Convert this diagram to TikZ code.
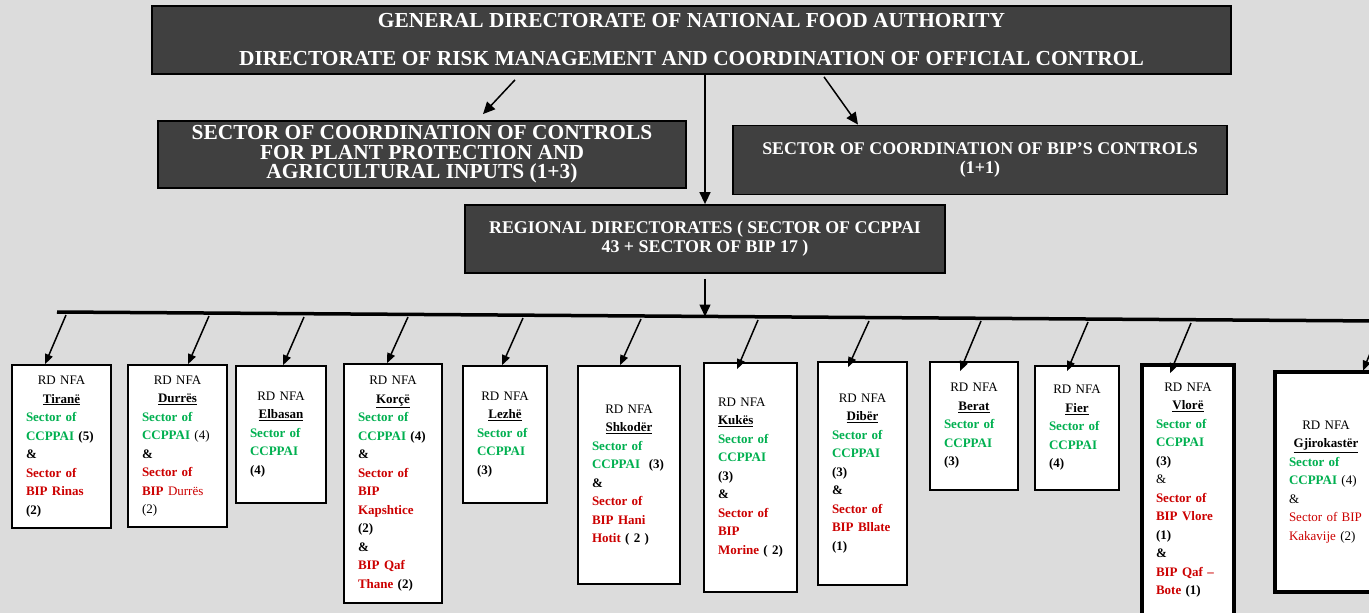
\documentclass[tikz,border=0pt]{standalone}
\usepackage{fontspec}
\setmainfont{Liberation Serif}
\usetikzlibrary{arrows.meta}
\definecolor{bggray}{RGB}{220,220,220}
\definecolor{boxgray}{RGB}{64,64,64}
\definecolor{ccgreen}{RGB}{0,176,80}
\definecolor{bipred}{RGB}{204,0,0}
\newcommand{\grn}[1]{\textcolor{ccgreen}{\textbf{#1}}}
\newcommand{\rdb}[1]{\textcolor{bipred}{\textbf{#1}}}
\newcommand{\rdhead}[1]{\makebox[\linewidth]{RD NFA}\\\makebox[\linewidth]{\textbf{\underline{#1}}}}
\tikzset{
  darkbox/.style={draw=black,fill=boxgray,line width=1.8pt,text=white,align=center,inner sep=0pt},
  rdbox/.style={draw=black,fill=white,line width=1.6pt,inner xsep=14pt,inner ysep=0pt,align=left,
    font=\fontsize{13}{18.5}\selectfont},
  arr/.style={line width=1.5pt,-{Triangle[length=12pt,width=11pt]}},
  brarr/.style={line width=1.5pt,-{Triangle[length=10pt,width=8pt]}}
}

\begin{document}
\begin{tikzpicture}[x=1pt,y=-1pt]

    % -- Page and background --
    \useasboundingbox (0,0) rectangle (1369,613);
    \fill[bggray] (0,0) rectangle (1369,613);

    % -- Upper levels --
    \node[darkbox,minimum width=1079pt,minimum height=68pt,font=\fontsize{21.4}{38}\selectfont\bfseries]
      (gda) at (691.5,40) {GENERAL DIRECTORATE OF NATIONAL FOOD AUTHORITY\\
      DIRECTORATE OF RISK MANAGEMENT AND COORDINATION OF OFFICIAL CONTROL};
    \node[darkbox,minimum width=528pt,minimum height=67pt,font=\fontsize{21.4}{19.5}\selectfont\bfseries]
      (ccp) at (422,154.5) {SECTOR OF COORDINATION OF CONTROLS\\FOR PLANT PROTECTION AND\\AGRICULTURAL INPUTS (1+3)};
    \node[darkbox,minimum width=494pt,minimum height=69pt,font=\fontsize{17.9}{19}\selectfont\bfseries]
      (bip) at (980,160) {SECTOR OF COORDINATION OF BIP’S CONTROLS\\(1+1)};
    \node[darkbox,minimum width=480pt,minimum height=68pt,font=\fontsize{17.9}{19}\selectfont\bfseries]
      (reg) at (705,239) {REGIONAL DIRECTORATES ( SECTOR OF CCPPAI\\43 + SECTOR OF BIP 17 )};

    \draw[arr] ([xshift=-176.5pt,yshift=-5pt]gda.south) -- ([xshift=61pt,yshift=6pt]ccp.north);
    \draw[arr] ([xshift=132.5pt,yshift=-2pt]gda.south) -- ([xshift=-122pt]bip.north);
    \draw[arr] (reg.north |- gda.south) -- (reg.north);

    % -- Distribution line --
    \coordinate (hl) at (57,312);
    \coordinate (hr) at (1380,321);
    \coordinate (hmid) at (705,316.5);
    \draw[line width=3.5pt] (hl) -- (hr);
    \draw[arr] ([yshift=-5pt]reg.south) -- (hmid);

    % -- Regional directorates --
    \node[rdbox,text width=71pt,minimum height=163pt] (tir) at (61.5,446.5)
      {\rdhead{Tiranë}\\ \grn{Sector of}\\ \grn{CCPPAI} \textbf{(5)}\\ \textbf{\&}\\ \rdb{Sector of}\\ \rdb{BIP Rinas}\\ \textbf{(2)}};
    \node[rdbox,text width=71pt,minimum height=162pt] (dur) at (177.5,446)
      {\rdhead{Durrës}\\ \grn{Sector of}\\ \grn{CCPPAI} (4)\\ \textbf{\&}\\ \rdb{Sector of}\\ \rdb{BIP} \textcolor{bipred}{Durrës}\\ (2)};
    \node[rdbox,text width=62pt,minimum height=137pt] (elb) at (281,434.5)
      {\rdhead{Elbasan}\\ \grn{Sector of}\\ \grn{CCPPAI}\\ \textbf{(4)}};
    \node[rdbox,text width=70pt,minimum height=239pt] (kor) at (393,483.5)
      {\rdhead{Korçë}\\ \grn{Sector of}\\ \grn{CCPPAI} \textbf{(4)}\\ \textbf{\&}\\ \rdb{Sector of}\\ \rdb{BIP}\\ \rdb{Kapshtice}\\
       \textbf{(2)}\\ \textbf{\&}\\ \rdb{BIP Qaf}\\ \rdb{Thane} \textbf{(2)}};
    \node[rdbox,text width=56pt,minimum height=137pt] (lez) at (505,434.5)
      {\rdhead{Lezhë}\\ \grn{Sector of}\\ \grn{CCPPAI}\\ \textbf{(3)}};
    \node[rdbox,text width=74pt,minimum height=218pt] (shk) at (629,475)
      {\rdhead{Shkodër}\\ \grn{Sector of}\\ \grn{CCPPAI}\ \ \textbf{(3)}\\ \textbf{\&}\\ \rdb{Sector of}\\ \rdb{BIP Hani}\\ \rdb{Hotit} \textbf{( 2 )}};
    \node[rdbox,text width=65pt,minimum height=229pt] (kuk) at (750.5,477.5)
      {RD NFA\\ \textbf{\underline{Kukës}}\\ \grn{Sector of}\\ \grn{CCPPAI}\\ \textbf{(3)}\\ \textbf{\&}\\ \rdb{Sector of}\\ \rdb{BIP}\\ \rdb{Morine} \textbf{( 2)}};
    \node[rdbox,text width=61pt,minimum height=223pt] (dib) at (862.5,473.5)
      {\rdhead{Dibër}\\ \grn{Sector of}\\ \grn{CCPPAI}\\ \textbf{(3)}\\ \textbf{\&}\\ \rdb{Sector of}\\ \rdb{BIP Bllate}\\ \textbf{(1)}};
    \node[rdbox,text width=60pt,minimum height=128pt] (ber) at (974,426)
      {\rdhead{Berat}\\ \grn{Sector of}\\ \grn{CCPPAI}\\ \textbf{(3)}};
    \node[rdbox,text width=56pt,minimum height=124pt] (fie) at (1077,428)
      {\rdhead{Fier}\\ \grn{Sector of}\\ \grn{CCPPAI}\\ \textbf{(4)}};
    \node[rdbox,line width=3.5pt,text width=64pt,minimum height=250pt] (vlo) at (1188,490)
      {\rdhead{Vlorë}\\ \grn{Sector of}\\ \grn{CCPPAI}\\ \textbf{(3)}\\ \&\\ \rdb{Sector of}\\ \rdb{BIP Vlore}\\ \textbf{(1)}\\
       \textbf{\&}\\ \rdb{BIP Qaf –}\\ \rdb{Bote} \textbf{(1)}};
    \node[rdbox,line width=4.5pt,text width=74pt,minimum height=220pt] (gji) at (1326,482)
      {\rdhead{Gjirokastër}\\ \grn{Sector of}\\ \grn{CCPPAI} (4)\\ \&\\ \textcolor{bipred}{Sector of BIP}\\ \textcolor{bipred}{Kakavije} (2)};

    % -- Branches from the line (start points just under it) --
    \coordinate (btir) at (66,315);
    \coordinate (bdur) at (209,316);
    \coordinate (belb) at (304,317);
    \coordinate (bkor) at (408,317);
    \coordinate (blez) at (523,318);
    \coordinate (bshk) at (641,319);
    \coordinate (bkuk) at (758,320);
    \coordinate (bdib) at (869,321);
    \coordinate (bber) at (981,321);
    \coordinate (bfie) at (1088,322);
    \coordinate (bvlo) at (1191,323);
    \coordinate (bgji) at (1382,324);

    \draw[brarr] (btir) -- ([xshift=-16.5pt]tir.north);
    \draw[brarr] (bdur) -- ([xshift=10.5pt]dur.north);
    \draw[brarr] (belb) -- ([xshift=2pt]elb.north);
    \draw[brarr] (bkor) -- ([xshift=-6pt]kor.north);
    \draw[brarr] (blez) -- ([xshift=-3pt]lez.north);
    \draw[brarr] (bshk) -- ([xshift=-9pt]shk.north);
    \draw[brarr] (bkuk) -- ([xshift=-13.5pt,yshift=-7pt]kuk.north);
    \draw[brarr] (bdib) -- ([xshift=-14.5pt,yshift=-6pt]dib.north);
    \draw[brarr] (bber) -- ([xshift=-14pt,yshift=-10pt]ber.north);
    \draw[brarr] (bfie) -- ([xshift=-10pt,yshift=-6pt]fie.north);
    \draw[brarr] (bvlo) -- ([xshift=-18pt,yshift=-10pt]vlo.north);
    \draw[brarr] (bgji) -- ([xshift=37pt,yshift=-1pt]gji.north);

\end{tikzpicture}
\end{document}
